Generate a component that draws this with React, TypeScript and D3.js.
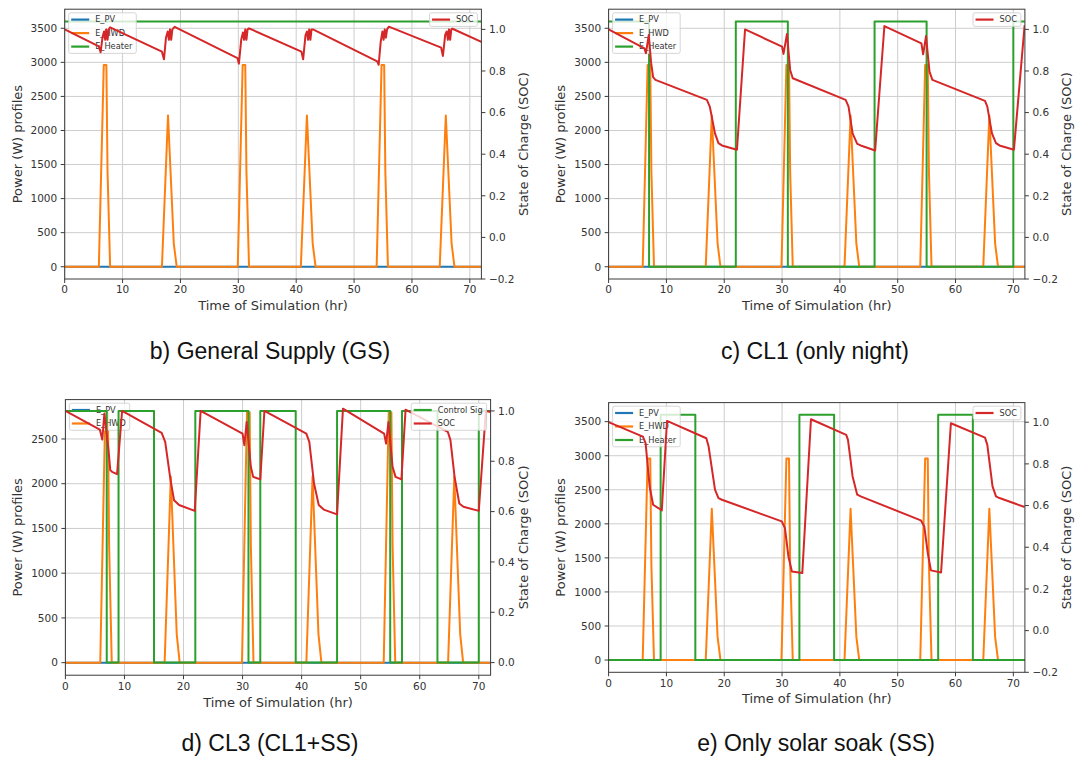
import React, { useEffect, useRef } from 'react'
import * as d3 from 'd3'

type Pt = [number, number]

// ---- axes ticks ----
const hourTicks = [0, 10, 20, 30, 40, 50, 60, 70]
const powerTicks = [0, 500, 1000, 1500, 2000, 2500, 3000, 3500]
const powerTicksCl3 = [0, 500, 1000, 1500, 2000, 2500]
const socTicks = [-0.2, 0, 0.2, 0.4, 0.6, 0.8, 1.0]
const socTicksCl3 = [0, 0.2, 0.4, 0.6, 0.8, 1.0]

// ---- series (hour, value) ----
const pvProfile: Pt[] = [[0, 0], [72, 0]]

const hwdProfile: Pt[] = [
  [0, 0], [5.9, 0], [6.75, 2960], [7.2, 2960], [7.4, 1400], [7.85, 0],
  [16.8, 0], [17.85, 2220], [18.85, 340], [19.35, 0],
  [29.9, 0], [30.75, 2960], [31.2, 2960], [31.4, 1400], [31.85, 0],
  [40.8, 0], [41.85, 2220], [42.85, 340], [43.35, 0],
  [53.9, 0], [54.75, 2960], [55.2, 2960], [55.4, 1400], [55.85, 0],
  [64.8, 0], [65.85, 2220], [66.85, 340], [67.35, 0], [72, 0],
]

const hwdProfileCl3: Pt[] = [
  [0, 0], [5.9, 0], [6.75, 2800], [7.2, 2800], [7.4, 1320], [7.85, 0],
  [16.8, 0], [17.85, 2080], [18.85, 320], [19.35, 0],
  [29.9, 0], [30.75, 2800], [31.2, 2800], [31.4, 1320], [31.85, 0],
  [40.8, 0], [41.85, 2080], [42.85, 320], [43.35, 0],
  [53.9, 0], [54.75, 2800], [55.2, 2800], [55.4, 1320], [55.85, 0],
  [64.8, 0], [65.85, 2080], [66.85, 320], [67.35, 0], [72, 0],
]

// heater / control signal switch points (step after)
const heaterGs: Pt[] = [[0, 3600], [72, 3600]]
const heaterCl1: Pt[] = [[0, 3600], [7, 0], [22, 3600], [31, 0], [46, 3600], [55, 0], [70, 3600], [72, 3600]]
const controlCl3: Pt[] = [[0, 1], [7, 0], [9, 1], [15, 0], [22, 1], [31, 0], [33, 1], [39, 0], [46, 1], [55, 0], [57, 1], [63, 0], [70, 1], [72, 1]]
const heaterSs: Pt[] = [[0, 0], [9, 3600], [15, 0], [33, 3600], [39, 0], [57, 3600], [63, 0], [72, 0]]

const socGs: Pt[] = [
  [0, 1.0], [5.9, 0.918], [6.2, 0.89], [6.55, 0.965], [6.8, 0.99], [7.0, 0.95], [7.2, 1.0], [7.4, 0.95], [7.6, 1.0], [7.85, 1.01],
  [16.8, 0.893], [17.15, 0.856], [17.5, 0.96], [17.8, 0.99], [18.0, 0.95], [18.2, 1.0], [18.4, 0.95], [18.6, 1.0], [19.0, 1.012],
  [29.85, 0.862], [30.1, 0.835], [30.5, 0.95], [30.8, 0.985], [31.0, 0.95], [31.2, 1.0], [31.4, 0.95], [31.6, 1.0], [31.85, 1.005],
  [40.9, 0.893], [41.2, 0.856], [41.6, 0.97], [41.85, 0.99], [42.05, 0.95], [42.25, 1.0], [42.45, 0.95], [42.65, 1.0], [42.9, 1.0],
  [54.0, 0.846], [54.25, 0.83], [54.6, 0.94], [54.9, 0.99], [55.1, 0.95], [55.3, 1.0], [55.5, 0.96], [55.7, 1.0], [56.0, 1.013],
  [65.05, 0.912], [65.35, 0.872], [65.75, 0.975], [66.0, 0.99], [66.2, 0.95], [66.4, 1.0], [66.6, 0.95], [66.8, 1.0], [67.0, 1.003],
  [72, 0.94],
]

const socCl1: Pt[] = [
  [0, 1.0], [6.2, 0.909], [6.45, 0.885], [6.95, 0.973], [7.35, 0.84], [7.7, 0.77], [8.1, 0.757],
  [17.0, 0.661], [17.5, 0.629], [18.4, 0.5], [19.0, 0.453], [19.6, 0.442], [22.2, 0.421], [23.6, 1.0],
  [30.0, 0.917], [30.25, 0.882], [30.85, 0.978], [31.4, 0.805], [31.85, 0.765],
  [41.0, 0.661], [41.5, 0.629], [42.2, 0.5], [43.0, 0.45], [43.6, 0.442], [46.1, 0.418], [47.7, 1.016],
  [54.1, 0.933], [54.4, 0.88], [54.9, 0.968], [55.5, 0.797], [56.0, 0.757],
  [65.1, 0.656], [65.5, 0.629], [66.3, 0.5], [67.0, 0.453], [67.6, 0.442], [70.1, 0.421], [71.95, 1.02],
]

const socCl3: Pt[] = [
  [0, 1.0], [5.83, 0.926], [6.24, 0.886], [6.6, 0.99], [7.3, 0.844], [7.6, 0.765], [7.9, 0.758], [8.75, 0.749], [9.6, 1.0],
  [16.3, 0.913], [16.9, 0.877], [17.8, 0.725], [18.4, 0.645], [19.25, 0.626], [21.9, 0.603], [22.9, 1.0],
  [30.0, 0.91], [30.3, 0.864], [30.7, 0.956], [31.4, 0.778], [31.8, 0.738], [33.0, 0.728], [33.7, 1.0],
  [40.8, 0.91], [41.3, 0.877], [42.1, 0.712], [42.9, 0.626], [43.75, 0.608], [46.0, 0.589], [47.0, 1.009],
  [53.97, 0.91], [54.3, 0.87], [54.7, 0.956], [55.4, 0.778], [55.9, 0.738], [56.9, 0.728], [57.6, 1.005],
  [64.75, 0.917], [65.2, 0.884], [65.9, 0.738], [66.7, 0.632], [67.4, 0.619], [70.0, 0.603], [71.2, 1.0], [72, 0.996],
]

const socSs: Pt[] = [
  [0, 1.0], [5.93, 0.931], [6.4, 0.9], [7.1, 0.69], [7.7, 0.604], [8.6, 0.588], [9.2, 0.576], [10.1, 1.006],
  [16.9, 0.923], [17.3, 0.883], [18.4, 0.676], [19.0, 0.636], [19.6, 0.628],
  [29.95, 0.524], [30.5, 0.492], [31.1, 0.356], [31.7, 0.284], [33.5, 0.276], [35.0, 1.014],
  [41.1, 0.939], [41.4, 0.915], [42.2, 0.74], [43.0, 0.652], [43.6, 0.644],
  [54.0, 0.529], [54.6, 0.5], [55.2, 0.372], [55.75, 0.289], [57.5, 0.279], [59.2, 0.995],
  [65.1, 0.926], [65.5, 0.891], [66.4, 0.692], [67.0, 0.644], [67.6, 0.636], [71.95, 0.593],
]

const captions = ['b) General Supply (GS)', 'c) CL1 (only night)', 'd) CL3 (CL1+SS)', 'e) Only solar soak (SS)']

const BLUE = '#1f77b4'
const ORANGE = '#ff7f0e'
const GREEN = '#2ca02c'
const RED = '#d62728'
const FONT = 'DejaVu Sans, sans-serif'
const TXT = '#333'

type Series = { data: Pt[]; color: string; label?: string; step?: boolean }
type Panel = {
  x0: number; x1: number; y0: number; y1: number
  leftDomain: [number, number]; rightDomain: [number, number]
  leftTicks: number[]; rightTicks: number[]
  left: Series[]; right: Series[]
  leftLabelX: number; rightLabelX: number; tickDy: number; labelDy: number
  caption: string; capX: number; capY: number
}

const panels: Panel[] = [
  {
    x0: 64.7, x1: 481.4, y0: 9.2, y1: 279, leftDomain: [-180, 3780], rightDomain: [-0.2, 1.097],
    leftTicks: powerTicks, rightTicks: socTicks,
    left: [{ data: pvProfile, color: BLUE, label: 'E_PV' }, { data: hwdProfile, color: ORANGE, label: 'E_HWD' }, { data: heaterGs, color: GREEN, label: 'E_Heater', step: true }],
    right: [{ data: socGs, color: RED, label: 'SOC' }],
    leftLabelX: 17.2, rightLabelX: 523.4, tickDy: 14.2, labelDy: 30.5, caption: captions[0], capX: 270, capY: 359,
  },
  {
    x0: 608.6, x1: 1024.9, y0: 9.2, y1: 279, leftDomain: [-180, 3780], rightDomain: [-0.2, 1.097],
    leftTicks: powerTicks, rightTicks: socTicks,
    left: [{ data: pvProfile, color: BLUE, label: 'E_PV' }, { data: hwdProfile, color: ORANGE, label: 'E_HWD' }, { data: heaterCl1, color: GREEN, label: 'E_Heater', step: true }],
    right: [{ data: socCl1, color: RED, label: 'SOC' }],
    leftLabelX: 560.6, rightLabelX: 1066.8, tickDy: 14.2, labelDy: 30.5, caption: captions[1], capX: 815, capY: 359,
  },
  {
    x0: 65.4, x1: 490.6, y0: 399.6, y1: 675.2, leftDomain: [-140, 2940], rightDomain: [-0.05, 1.045],
    leftTicks: powerTicksCl3, rightTicks: socTicksCl3,
    left: [{ data: pvProfile, color: BLUE, label: 'E_PV' }, { data: hwdProfileCl3, color: ORANGE, label: 'E_HWD' }],
    right: [{ data: controlCl3, color: GREEN, label: 'Control Sig', step: true }, { data: socCl3, color: RED, label: 'SOC' }],
    leftLabelX: 17.2, rightLabelX: 523.4, tickDy: 14.6, labelDy: 32, caption: captions[2], capX: 270, capY: 751,
  },
  {
    x0: 608.6, x1: 1024.9, y0: 402.6, y1: 672.3, leftDomain: [-180, 3780], rightDomain: [-0.2, 1.094],
    leftTicks: powerTicks, rightTicks: socTicks,
    left: [{ data: pvProfile, color: BLUE, label: 'E_PV' }, { data: hwdProfile, color: ORANGE, label: 'E_HWD' }, { data: heaterSs, color: GREEN, label: 'E_Heater', step: true }],
    right: [{ data: socSs, color: RED, label: 'SOC' }],
    leftLabelX: 560.6, rightLabelX: 1066.8, tickDy: 14.2, labelDy: 30.5, caption: captions[3], capX: 816, capY: 751,
  },
]

const fmtSoc = (d: number) => d3.format('.1f')(d).replace('-', '\u2212')

function drawLegend(g: any, items: Series[], p: Panel, side: 'left' | 'right') {
  const lg = g.append('g')
  const box = lg.append('rect')
  const texts: number[] = []
  items.forEach((s, i) => {
    const cy = 6.8 + i * 13.5
    lg.append('line').attr('x1', 2.5).attr('x2', 20.5).attr('y1', cy).attr('y2', cy)
      .attr('stroke', s.color).attr('stroke-width', 2.2)
    const t = lg.append('text').text(s.label).attr('x', 26.5).attr('y', cy).attr('dy', '0.35em')
      .attr('font-size', 8.2).attr('font-family', FONT).attr('fill', TXT)
    texts.push((t.node() as SVGTextElement).getComputedTextLength())
  })
  const w = 26.5 + d3.max(texts)! + 4
  const h = 13.6 + (items.length - 1) * 13.5
  box.attr('width', w).attr('height', h).attr('rx', 2)
    .attr('fill', 'white').attr('fill-opacity', 0.8).attr('stroke', '#cccccc').attr('stroke-width', 0.8)
  const lx = side === 'left' ? p.x0 + 4 : p.x1 - 4 - w
  lg.attr('transform', `translate(${lx},${p.y0 + 3.6})`)
}

function drawPanel(svg: any, p: Panel, idx: number) {
  const x = d3.scaleLinear().domain([0, 72]).range([p.x0, p.x1])
  const yL = d3.scaleLinear().domain(p.leftDomain).range([p.y1, p.y0])
  const yR = d3.scaleLinear().domain(p.rightDomain).range([p.y1, p.y0])
  const g = svg.append('g')
  const clipId = `clip-${idx}`
  g.append('clipPath').attr('id', clipId).append('rect')
    .attr('x', p.x0).attr('y', p.y0).attr('width', p.x1 - p.x0).attr('height', p.y1 - p.y0)

  // GRID
  g.append('g').selectAll('line').data(hourTicks).join('line')
    .attr('x1', (d: number) => x(d)).attr('x2', (d: number) => x(d)).attr('y1', p.y0).attr('y2', p.y1)
    .attr('stroke', '#cdcdcd').attr('stroke-width', 1)
  g.append('g').selectAll('line').data(p.leftTicks).join('line')
    .attr('x1', p.x0).attr('x2', p.x1).attr('y1', (d: number) => yL(d)).attr('y2', (d: number) => yL(d))
    .attr('stroke', '#cdcdcd').attr('stroke-width', 1)

  const mkLine = (s: Series, y: d3.ScaleLinear<number, number>) =>
    d3.line<Pt>().x(d => x(d[0])).y(d => y(d[1])).curve(s.step ? d3.curveStepAfter : d3.curveLinear)(s.data)

  // LEFT AXIS LINES
  const lines = g.append('g').attr('clip-path', `url(#${clipId})`)
  p.left.forEach(s => {
    lines.append('path').attr('d', mkLine(s, yL)).attr('fill', 'none')
      .attr('stroke', s.color).attr('stroke-width', 2).attr('stroke-linejoin', 'round')
  })
  drawLegend(g, p.left, p, 'left')

  // RIGHT (TWIN) AXIS LINES
  const lines2 = g.append('g').attr('clip-path', `url(#${clipId})`)
  p.right.forEach(s => {
    lines2.append('path').attr('d', mkLine(s, yR)).attr('fill', 'none')
      .attr('stroke', s.color).attr('stroke-width', 2).attr('stroke-linejoin', 'round')
  })
  drawLegend(g, p.right, p, 'right')

  // FRAME
  g.append('rect').attr('x', p.x0).attr('y', p.y0).attr('width', p.x1 - p.x0).attr('height', p.y1 - p.y0)
    .attr('fill', 'none').attr('stroke', '#3a3a3a').attr('stroke-width', 1)

  // X AXIS
  const xa = g.append('g').selectAll('g').data(hourTicks).join('g')
  xa.append('line').attr('x1', (d: number) => x(d)).attr('x2', (d: number) => x(d))
    .attr('y1', p.y1).attr('y2', p.y1 + 4).attr('stroke', '#3a3a3a')
  xa.append('text').text((d: number) => d).attr('x', (d: number) => x(d)).attr('y', p.y1 + p.tickDy)
    .attr('text-anchor', 'middle').attr('font-size', 10.5).attr('font-family', FONT).attr('fill', TXT)
  g.append('text').text('Time of Simulation (hr)').attr('x', (p.x0 + p.x1) / 2).attr('y', p.y1 + p.labelDy)
    .attr('text-anchor', 'middle').attr('font-size', 13).attr('font-family', FONT).attr('fill', TXT)

  // LEFT Y AXIS
  const la = g.append('g').selectAll('g').data(p.leftTicks).join('g')
  la.append('line').attr('x1', p.x0 - 4).attr('x2', p.x0).attr('y1', (d: number) => yL(d)).attr('y2', (d: number) => yL(d))
    .attr('stroke', '#3a3a3a')
  la.append('text').text((d: number) => d).attr('x', p.x0 - 7.5).attr('y', (d: number) => yL(d)).attr('dy', '0.36em')
    .attr('text-anchor', 'end').attr('font-size', 10.5).attr('font-family', FONT).attr('fill', TXT)
  g.append('text').text('Power (W) profiles')
    .attr('transform', `translate(${p.leftLabelX},${(p.y0 + p.y1) / 2}) rotate(-90)`)
    .attr('dy', '0.35em').attr('text-anchor', 'middle').attr('font-size', 13).attr('font-family', FONT).attr('fill', TXT)

  // RIGHT Y AXIS
  const ra = g.append('g').selectAll('g').data(p.rightTicks).join('g')
  ra.append('line').attr('x1', p.x1).attr('x2', p.x1 + 4).attr('y1', (d: number) => yR(d)).attr('y2', (d: number) => yR(d))
    .attr('stroke', '#3a3a3a')
  ra.append('text').text((d: number) => fmtSoc(d)).attr('x', p.x1 + 7.5).attr('y', (d: number) => yR(d)).attr('dy', '0.36em')
    .attr('text-anchor', 'start').attr('font-size', 10.5).attr('font-family', FONT).attr('fill', TXT)
  g.append('text').text('State of Charge (SOC)')
    .attr('transform', `translate(${p.rightLabelX},${(p.y0 + p.y1) / 2}) rotate(-90)`)
    .attr('dy', '0.35em').attr('text-anchor', 'middle').attr('font-size', 13).attr('font-family', FONT).attr('fill', TXT)

  // CAPTION
  svg.append('text').text(p.caption).attr('x', p.capX).attr('y', p.capY)
    .attr('text-anchor', 'middle').attr('font-size', 23).attr('font-family', 'Liberation Sans, Arial, sans-serif').attr('fill', '#111')
}

export default function App() {
  const chart = useRef<SVGSVGElement>(null)

  useEffect(() => {
    const svg = d3.select(chart.current)
    svg.selectAll('*').remove()
    svg.append('rect').attr('width', 1078).attr('height', 758).attr('fill', 'white')
    panels.forEach((p, i) => drawPanel(svg, p, i))
  }, [])

  return (
    <svg ref={chart} width={1078} height={758} style={{ position: 'absolute', left: 0, top: 0 }} />
  )
}
